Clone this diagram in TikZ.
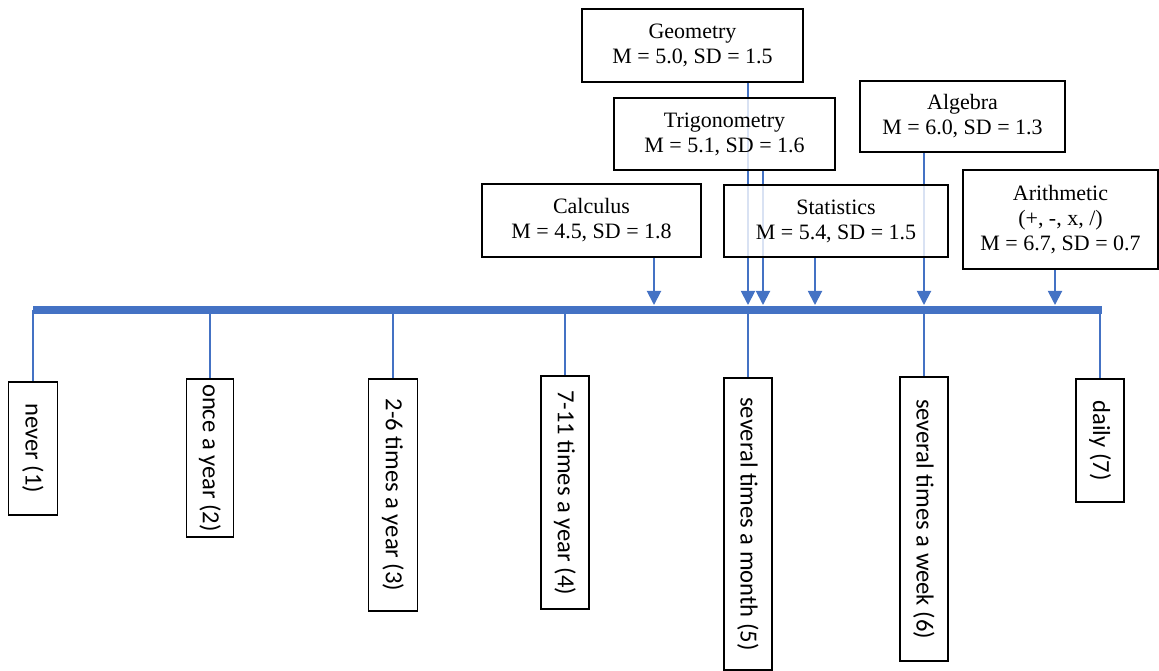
\documentclass[tikz,border=0pt]{standalone}
\usepackage{fontspec}
\setmainfont{Liberation Serif}
\newfontfamily\levelfont{Carlito}
\usetikzlibrary{arrows.meta,backgrounds}
\definecolor{scaleblue}{HTML}{4472C4}
\tikzset{%
  >={Triangle[length=8pt,width=8pt]},
  inner sep=0pt,%
  boxsize/.style 2 args={minimum width=#1*0.02cm,minimum height=#2*0.02cm},
  subject/.style={draw=black,line width=1pt,fill=white,fill opacity=0.8,
    text opacity=1,align=center,font=\fontsize{12.5}{14.2}\selectfont},
  level/.style={draw=black,line width=1pt,fill=white,rotate=-90,
    font=\levelfont\fontsize{14}{16}\selectfont},
  mean arrow/.style={->,scaleblue,line width=1.1pt},
  tick line/.style={scaleblue,line width=1.3pt}%
}

\begin{document}
\begin{tikzpicture}[x=0.02cm,y=-0.02cm]
	\useasboundingbox (0,0) rectangle (1159,671);
	
	%% the frequency scale
	\coordinate (axisL) at (33,310);
	\coordinate (axisR) at (1102,310);
	
	\node[level,boxsize={133}{49}] (l1) at (33,448.5) {never (1)};
	\node[level,boxsize={158}{47}] (l2) at (210,458) {once a year (2)};
	\node[level,boxsize={232}{49}] (l3) at (393,495) {2-6 times a year (3)};
	\node[level,boxsize={233}{48}] (l4) at (565,492.5) {7-11 times a year (4)};
	\node[level,boxsize={292}{48}] (l5) at (748,524) {several times a month (5)};
	\node[level,boxsize={284}{48}] (l6) at (924,519) {several times a week (6)};
	\node[level,boxsize={123}{48}] (l7) at (1100,440.5) {daily (7)};
	
	%% subject means
	\node[subject,boxsize={221}{73}] (geo) at (692.5,45.5) {Geometry\\M = 5.0, SD = 1.5};
	\node[subject,boxsize={221}{72}] (trig) at (724.5,134) {Trigonometry\\M = 5.1, SD = 1.6};
	\node[subject,boxsize={205}{71}] (alg) at (962.5,116.5) {Algebra\\M = 6.0, SD = 1.3};
	\node[subject,boxsize={219}{73}] (calc) at (591.5,220.5) {Calculus\\M = 4.5, SD = 1.8};
	\node[subject,boxsize={224}{72}] (stat) at (836,221) {Statistics\\M = 5.4, SD = 1.5};
	\node[subject,boxsize={195}{99}] (arith) at (1060.5,219.5) {Arithmetic\\(+, -, x, /)\\M = 6.7, SD = 0.7};
	
	\begin{pgfonlayer}{background}
		\foreach \s/\x in {calc/654,geo/748,trig/763,stat/815,alg/924,arith/1055}{
			\coordinate (m-\s) at (\x,305);
			\draw[mean arrow] (\s.south -| m-\s) -- (m-\s);
		}
		\foreach \i in {1,...,7}
			\draw[tick line] (l\i.west |- axisL) -- (l\i.west);
	\end{pgfonlayer}
	
	\draw[scaleblue,line width=4pt] (axisL) -- (axisR);
\end{tikzpicture}
\end{document}
